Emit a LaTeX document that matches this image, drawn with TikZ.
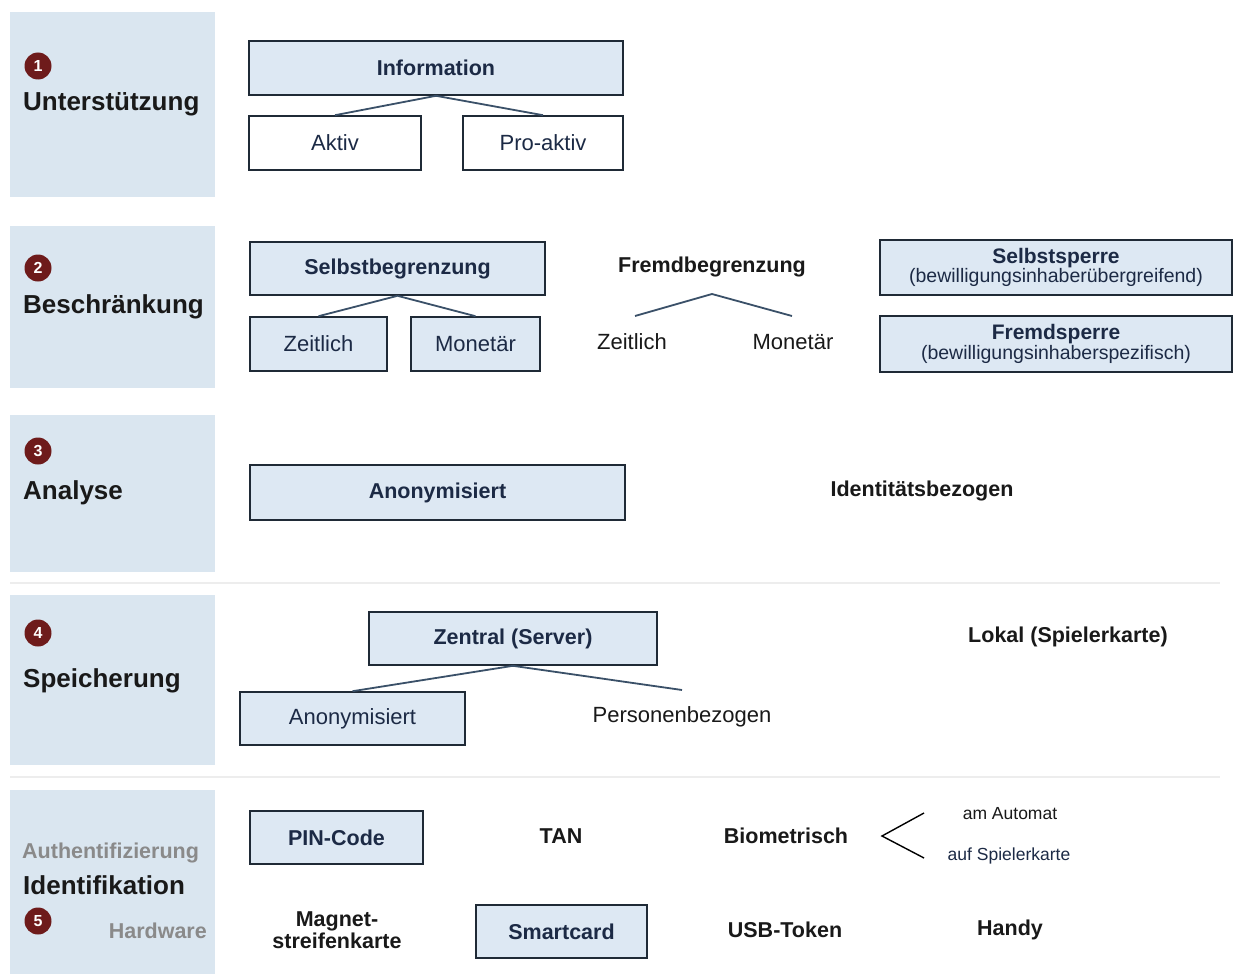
\documentclass[tikz,border=0pt]{standalone}
\usepackage{fontspec}
\setmainfont{Liberation Sans}
\definecolor{panel}{HTML}{DAE6F0}
\definecolor{boxfill}{HTML}{DDE8F3}
\definecolor{boxline}{HTML}{1F2A36}
\definecolor{boxtext}{HTML}{1C2A45}
\definecolor{circ}{HTML}{6E1B1B}
\definecolor{conn}{HTML}{3A5068}
\definecolor{graytext}{HTML}{8A8A8A}
\begin{document}
\begin{tikzpicture}[x=1pt,y=-1pt,
  panelbox/.style={fill=panel, draw=none},
  numcirc/.style={circle, fill=circ, minimum size=27pt, inner sep=0pt, text=white, font=\bfseries\fontsize{16}{16}\selectfont},
  cat/.style={anchor=west, inner sep=0pt, font=\bfseries\fontsize{26}{26}\selectfont, text=black!90},
  sub/.style={inner sep=0pt, font=\bfseries\fontsize{21.5}{21.5}\selectfont, text=graytext},
  box/.style={draw=boxline, line width=1.6pt, fill=boxfill, inner sep=0pt, text=boxtext},
  wbox/.style={box, fill=white},
  bt/.style={font=\bfseries\fontsize{21.5}{21.5}\selectfont},
  nt/.style={font=\fontsize{22}{22}\selectfont},
  plain/.style={inner sep=0pt, text=black!90},
  conn/.style={draw=conn, line width=1.8pt},
  sep/.style={draw=black!7, line width=1.5pt}
]
\useasboundingbox (0,0) rectangle (1234,974);
\fill[white] (0,0) rectangle (1234,974);
% separator lines
\draw[sep] (10,583) -- (1220,583);
\draw[sep] (10,777) -- (1220,777);
% left panels
\fill[panelbox] (10,12) rectangle (215,197);
\fill[panelbox] (10,226) rectangle (215,388);
\fill[panelbox] (10,415) rectangle (215,572);
\fill[panelbox] (10,595) rectangle (215,765);
\fill[panelbox] (10,790) rectangle (215,974);
% numbers
\node[numcirc] (n1) at (38,66) {1};
\node[numcirc] (n2) at (38,268) {2};
\node[numcirc] (n3) at (38,451) {3};
\node[numcirc] (n4) at (38,633) {4};
\node[numcirc] (n5) at (38,921) {5};
% category labels
\node[cat] (c1) at (23,104) {Unterstützung};
\node[cat] (c2) at (23,307) {Beschränkung};
\node[cat] (c3) at (23,493) {Analyse};
\node[cat] (c4) at (23,681) {Speicherung};
\node[cat] (c5) at (23,885) {Identifikation};
\node[sub, anchor=west] (s5a) at (22,853) {Authentifizierung};
\node[sub, anchor=east] (s5b) at (207,931) {Hardware};
% row 1
\node[box, bt, minimum width=374pt, minimum height=54pt] (info) at (436,68) {Information};
\node[wbox, nt, minimum width=172pt, minimum height=54pt] (aktiv) at (335,143) {Aktiv};
\node[wbox, nt, minimum width=160pt, minimum height=54pt] (proaktiv) at (543,143) {Pro-aktiv};
\draw[conn] (info.south) -- (aktiv.north);
\draw[conn] (info.south) -- (proaktiv.north);
% row 2
\node[box, bt, minimum width=295pt, minimum height=53pt] (selbst) at (397.5,268.5) {Selbstbegrenzung};
\node[box, nt, minimum width=137pt, minimum height=54pt] (zeit1) at (318.5,344) {Zeitlich};
\node[box, nt, minimum width=129pt, minimum height=54pt] (mon1) at (475.5,344) {Monetär};
\draw[conn] (selbst.south) -- (zeit1.north);
\draw[conn] (selbst.south) -- (mon1.north);
\node[plain, bt] (fremd) at (712,267) {Fremdbegrenzung};
\node[plain, nt] (zeit2) at (632,342) {Zeitlich};
\node[plain, nt] (mon2) at (793,342) {Monetär};
\coordinate (fbA) at (712,294);
\coordinate (fbL) at (635,316);
\coordinate (fbR) at (792,316);
\draw[conn] (fbA) -- (fbL);
\draw[conn] (fbA) -- (fbR);
\node[box, minimum width=352pt, minimum height=55pt, align=center] (sperre1) at (1056,267.5)
  {{\bfseries\fontsize{21}{21}\selectfont Selbstsperre}\\[0pt]{\fontsize{19.5}{21}\selectfont (bewilligungsinhaberübergreifend)}};
\node[box, minimum width=352pt, minimum height=56pt, align=center] (sperre2) at (1056,344)
  {{\bfseries\fontsize{21}{21}\selectfont Fremdsperre}\\[0pt]{\fontsize{19.5}{21}\selectfont (bewilligungsinhaberspezifisch)}};
% row 3
\node[box, bt, minimum width=375pt, minimum height=55pt] (anon1) at (437.5,492.5) {Anonymisiert};
\node[plain, bt] (ident) at (922,491) {Identitätsbezogen};
% row 4
\node[box, bt, minimum width=288pt, minimum height=53pt] (zentral) at (513,638.5) {Zentral (Server)};
\node[plain, bt] (lokal) at (1068,637) {Lokal (Spielerkarte)};
\node[box, nt, minimum width=225pt, minimum height=53pt] (anon2) at (352.5,718.5) {Anonymisiert};
\node[plain, nt] (pers) at (682,717) {Personenbezogen};
\coordinate (persTop) at (682,690);
\draw[conn] (zentral.south) -- (anon2.north);
\draw[conn] (zentral.south) -- (persTop);
% row 5
\node[box, bt, minimum width=173pt, minimum height=53pt] (pin) at (336.5,837.5) {PIN-Code};
\node[plain, bt] (tan) at (561,836) {TAN};
\node[plain, bt] (bio) at (786,836) {Biometrisch};
\coordinate (bioT) at (924,813);
\coordinate (bioV) at (882,836);
\coordinate (bioB) at (924,858);
\draw[black, line width=1.4pt] (bioT) -- (bioV) -- (bioB);
\node[plain, font=\fontsize{17.5}{17.5}\selectfont] (auto) at (1010,814) {am Automat};
\node[plain, font=\fontsize{17.5}{17.5}\selectfont, text=boxtext] (spk) at (1009,856) {auf Spielerkarte};
\node[plain, bt, align=center] (magnet) at (337,930) {\fontsize{21.5}{23}\selectfont Magnet-\\streifenkarte};
\node[box, bt, minimum width=171pt, minimum height=53pt] (smart) at (561.5,931.5) {Smartcard};
\node[plain, bt] (usb) at (785,930) {USB-Token};
\node[plain, bt] (handy) at (1010,930) {Handy};
\end{tikzpicture}
\end{document}
